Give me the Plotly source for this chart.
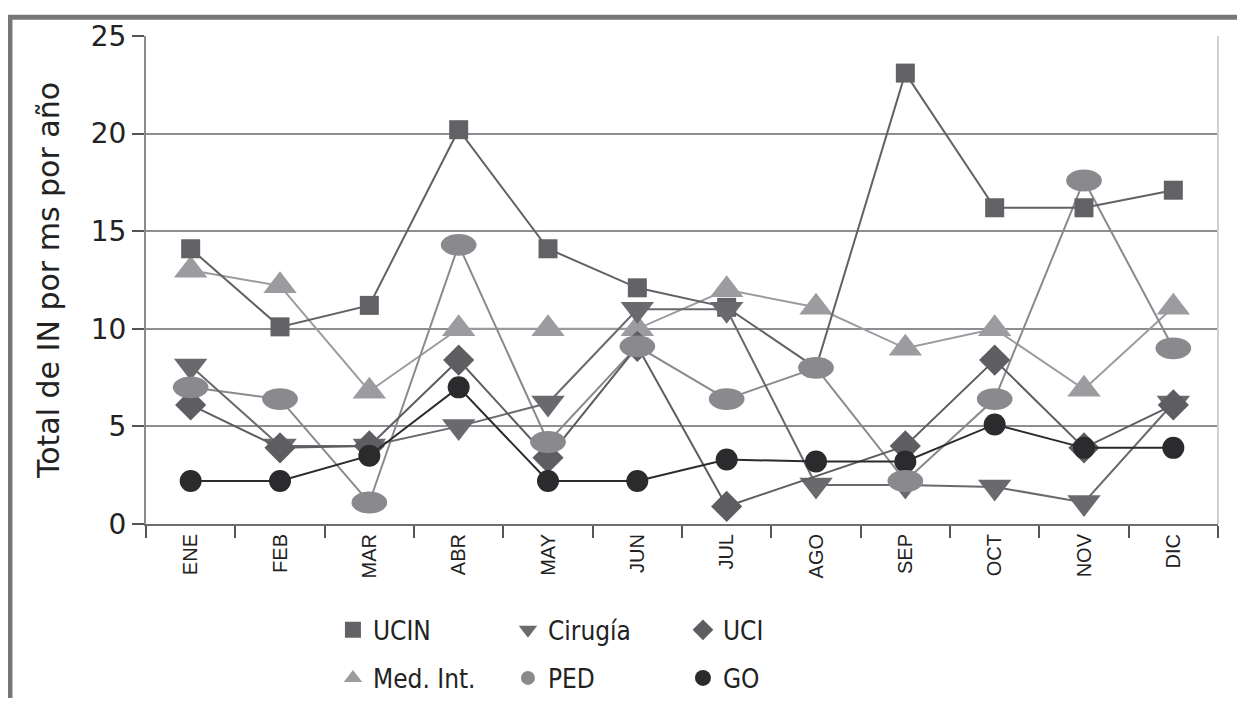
import plotly.graph_objects as go

months = ["ENE", "FEB", "MAR", "ABR", "MAY", "JUN", "JUL", "AGO", "SEP", "OCT", "NOV", "DIC"]

ucin = [14.1, 10.1, 11.2, 20.2, 14.1, 12.1, 11.1, 8.0, 23.1, 16.2, 16.2, 17.1]
cirugia = [8.1, 4.0, 4.0, 5.0, 6.2, 11.0, 11.0, 2.0, 2.0, 1.9, 1.1, 6.2]
uci = [6.1, 3.9, 4.0, 8.4, 3.4, 9.1, 0.9, None, 4.0, 8.4, 3.9, 6.1]
med_int = [13.0, 12.2, 6.8, 10.0, 10.0, 10.0, 12.0, 11.1, 9.0, 10.0, 6.9, 11.1]
ped = [7.0, 6.4, 1.1, 14.3, 4.2, 9.1, 6.4, 8.0, 2.2, 6.4, 17.6, 9.0]
go_vals = [2.2, 2.2, 3.5, 7.0, 2.2, 2.2, 3.3, 3.2, 3.2, 5.1, 3.9, 3.9]

y_ticks = [0, 5, 10, 15, 20, 25]

series = [
    # name, values, symbol, size, color, legend
    ("Med. Int.", med_int, "triangle-up", 29, "#9c9ca0", "legend2"),
    ("PED", ped, "circle", 1, "#8a8a8e", "legend2"),
    ("UCIN", ucin, "square", 19, "#626266", "legend"),
    ("Cirugía", cirugia, "triangle-down", 29, "#6a6a6e", "legend"),
    ("UCI", uci, "diamond", 24, "#5e5e62", "legend"),
    ("GO", go_vals, "circle", 22, "#2b2b2e", "legend2"),
]

fig = go.Figure()

for name, vals, sym, size, color, leg in series:
    fig.add_trace(go.Scatter(
        x=months, y=vals, mode="lines+markers" if name != "PED" else "lines",
        name=name, showlegend=False, connectgaps=True,
        line=dict(color=color, width=2),
        marker=dict(symbol=sym, size=size, color=color),
        hoverinfo="x+y+name",
    ))

# legend-only entries (markers only, as in the reference legend)
for name, vals, sym, size, color, leg in series:
    fig.add_trace(go.Scatter(
        x=[None], y=[None], mode="markers", name=name, legend=leg,
        marker=dict(symbol=sym, size=16 if name != "PED" else 14, color=color),
        showlegend=True,
    ))

# PED ellipse markers
for i, v in enumerate(ped):
    fig.add_shape(type="circle", xref="x", yref="y",
                  x0=i - 0.2, x1=i + 0.2, y0=v - 0.56, y1=v + 0.56,
                  fillcolor="#8a8a8e", line=dict(width=0), layer="above")

# frame: top and left bars
fig.add_shape(type="line", xref="paper", yref="paper",
              x0=-0.135, x1=1.03, y0=1.0384, y1=1.0384,
              line=dict(color="#77777a", width=5))
fig.add_shape(type="line", xref="paper", yref="paper",
              x0=-0.1269, x1=-0.1269, y0=1.043, y1=-0.40,
              line=dict(color="#77777a", width=5))
# right edge of plot box
fig.add_shape(type="line", xref="paper", yref="paper",
              x0=1.0, x1=1.0, y0=0, y1=1.0,
              line=dict(color="#d0d0d0", width=2))

legend_font = dict(family="Liberation Sans Narrow, DejaVu Sans Condensed, Arial Narrow, sans-serif",
                   size=26, color="#222")

fig.update_layout(
    width=1229, height=690,
    margin=dict(l=138, r=19, t=21, b=174),
    paper_bgcolor="white", plot_bgcolor="white",
    font=dict(family="DejaVu Sans", color="#222"),
    xaxis=dict(
        type="category", tickangle=-90, tickson="boundaries",
        ticks="outside", ticklen=12, tickwidth=2, tickcolor="#555",
        tickfont=dict(family="Liberation Sans", size=20, color="#222"),
        showline=True, linecolor="#6e6e72", linewidth=2,
        showgrid=False, range=[-0.5, 11.5],
    ),
    yaxis=dict(
        range=[0, 25], tickvals=y_ticks, ticktext=[str(t) for t in y_ticks],
        ticks="outside", ticklen=12, tickwidth=2, tickcolor="#555",
        tickfont=dict(family="DejaVu Sans", size=28, color="#222"),
        showline=True, linecolor="#8c8c90", linewidth=2,
        showgrid=True, gridcolor="#8e8e92", gridwidth=2,
        zeroline=False,
        title=dict(text="Total de IN por ms por año",
                   font=dict(family="DejaVu Sans", size=30, color="#222"),
                   standoff=22),
    ),
    legend=dict(
        orientation="h", xref="container", yref="container",
        x=0.2644, y=0.0986, xanchor="left", yanchor="middle",
        entrywidth=130, entrywidthmode="pixels",
        font=legend_font, bgcolor="rgba(0,0,0,0)",
    ),
    legend2=dict(
        orientation="h", xref="container", yref="container",
        x=0.2644, y=0.029, xanchor="left", yanchor="middle",
        entrywidth=130, entrywidthmode="pixels",
        font=legend_font, bgcolor="rgba(0,0,0,0)",
    ),
    showlegend=True,
)

fig.write_html("out.html")
